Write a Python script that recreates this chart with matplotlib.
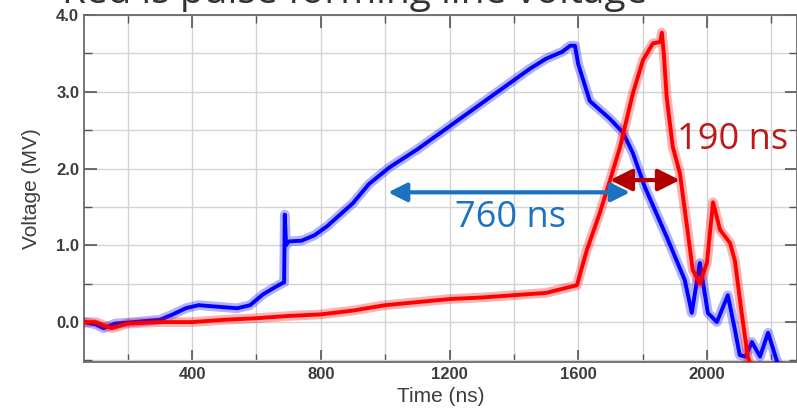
import numpy as np
import matplotlib
matplotlib.use("Agg")
import matplotlib.pyplot as plt
from matplotlib.ticker import MultipleLocator

# Blue trace: time in ns, voltage in MV
blue_t = [64, 100, 125, 160, 220, 300, 340, 380, 420, 480, 540, 580, 620, 660, 686,
          688, 692, 700, 740, 780, 820, 860, 900, 950, 1015, 1100, 1200, 1300, 1400,
          1450, 1500, 1550, 1575, 1590, 1600, 1636, 1698, 1739, 1770, 1807, 1875,
          1931, 1953, 1978, 2003, 2031, 2065, 2087, 2102, 2120, 2140, 2165, 2190, 2217]
blue_v = [0.0, -0.03, -0.08, -0.02, 0.0, 0.03, 0.1, 0.18, 0.22, 0.2, 0.18, 0.22, 0.36, 0.46, 0.52,
          1.4, 1.0, 1.05, 1.06, 1.13, 1.25, 1.4, 1.55, 1.8, 2.02, 2.25, 2.55, 2.85, 3.15,
          3.3, 3.43, 3.52, 3.6, 3.6, 3.36, 2.88, 2.65, 2.47, 2.2, 1.76, 1.11,
          0.55, 0.12, 0.77, 0.12, 0.0, 0.35, -0.1, -0.43, -0.45, -0.26, -0.45, -0.14, -0.5]

# Red trace (pulse forming line)
red_t = [64, 100, 150, 200, 300, 400, 500, 600, 700, 800, 900, 1000, 1100, 1200, 1300,
         1400, 1500, 1596, 1627, 1667, 1699, 1730, 1770, 1801, 1832, 1855, 1860, 1866,
         1875, 1894, 1916, 1956, 1978, 2000, 2019, 2041, 2072, 2087, 2108, 2127, 2140]
red_v = [0.0, 0.0, -0.08, -0.02, 0.0, 0.0, 0.03, 0.05, 0.08, 0.1, 0.15, 0.22, 0.26, 0.3, 0.32,
         0.35, 0.38, 0.48, 0.94, 1.42, 1.85, 2.28, 2.98, 3.41, 3.63, 3.65, 3.77, 3.5,
         2.93, 2.28, 1.94, 0.68, 0.5, 0.77, 1.56, 1.2, 1.03, 0.8, 0.12, -0.45, -0.6]

x_ticks = [400, 800, 1200, 1600, 2000]
y_ticks = [0.0, 1.0, 2.0, 3.0, 4.0]

fig = plt.figure(figsize=(7.97, 4.18), dpi=100)
ax = fig.add_axes([84 / 797, 1 - 362 / 418, 1 - 84 / 797, (362 - 15) / 418])

# faint wide stroke under each trace stands in for the scope noise band
for t, v, c in [(blue_t, blue_v, "#0000ff"), (red_t, red_v, "#ff0000")]:
    ax.plot(t, v, color=c, lw=7, alpha=0.3, solid_joinstyle="round", zorder=3)
    ax.plot(t, v, color=c, lw=2.8, zorder=3)

ax.set_xlim(64, 2280)
ax.set_ylim(-0.52, 4.0)
ax.set_xticks(x_ticks)
ax.set_yticks(y_ticks)
ax.set_yticklabels([f"{v:.1f}" for v in y_ticks])
ax.xaxis.set_minor_locator(MultipleLocator(200))
ax.yaxis.set_minor_locator(MultipleLocator(0.5))
ax.grid(which="both", color="#d4d4d4", lw=1.0, zorder=0)
ax.set_axisbelow(True)

ax.tick_params(which="both", direction="in", top=True, right=True, colors="#555555",
               labelcolor="#3c3c3c", labelsize=12)
ax.tick_params(which="major", length=9, width=1.2)
ax.tick_params(which="minor", length=6, width=1.0)
for lab in ax.get_xticklabels() + ax.get_yticklabels():
    lab.set_fontfamily("Liberation Sans")
    lab.set_fontweight("bold")
for sp in ax.spines.values():
    sp.set_color("#6a6a6a")
    sp.set_linewidth(1.3)

ax.set_xlabel("Time (ns)", fontsize=15, family="Liberation Sans", color="#3c3c3c", labelpad=4)
ax.set_ylabel("Voltage (MV)", fontsize=15, family="Liberation Sans", color="#3c3c3c", labelpad=11)

# double arrows and labels
ax.annotate("", xy=(1009, 1.69), xytext=(1761, 1.69),
            arrowprops=dict(arrowstyle="<|-|>", color="#1b72be", lw=3, mutation_scale=28,
                            shrinkA=0, shrinkB=0), zorder=5)
ax.annotate("", xy=(1699, 1.85), xytext=(1916, 1.85),
            arrowprops=dict(arrowstyle="<|-|>", color="#b00000", lw=3, mutation_scale=33,
                            shrinkA=0, shrinkB=0), zorder=5)
ax.text(1217, 1.36, "760 ns", color="#1b72be", fontsize=26, family="Open Sans",
        ha="left", va="center", zorder=6)
ax.text(1907, 2.37, "190 ns", color="#c01818", fontsize=26, family="Open Sans",
        ha="left", va="center", zorder=6)

fig.text(62 / 797, 1 - 3 / 418, "Red is pulse forming line voltage", fontsize=28,
         family="Open Sans", color="#333333", ha="left", va="baseline", zorder=0)

fig.savefig("out.png", dpi=100)
